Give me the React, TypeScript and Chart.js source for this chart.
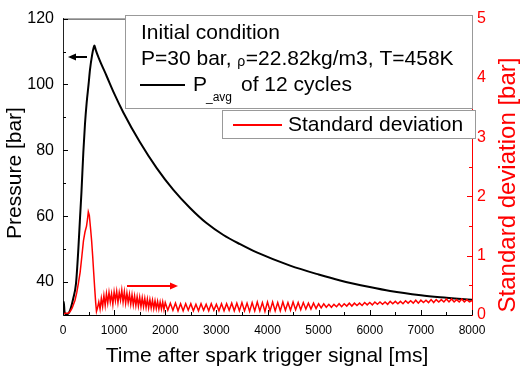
import React, { useEffect, useRef } from 'react';
import { Chart, registerables } from 'chart.js';
Chart.register(...registerables);

// ---- data ----
const P_TIME = [0, 15, 30, 60, 100, 140, 200, 254, 300, 333, 360, 398, 430, 463, 500, 528, 570, 600, 615, 640, 700, 855, 1000, 1180, 1500, 1833, 2159, 2485, 2800, 3137, 3464, 3790, 4442, 5000, 5421, 6000, 6399, 7000, 7378, 8000];
const P_AVG = [30.5, 34, 31, 30.2, 30.4, 31.5, 35, 39.5, 50, 59.5, 67, 79.5, 88, 94.5, 100, 104.5, 109, 111.2, 111.8, 110.5, 108, 102.5, 97.3, 91.5, 82.6, 74.6, 68.0, 62.5, 58.0, 54.3, 51.5, 49.0, 45.0, 42.3, 40.5, 38.5, 37.3, 36.0, 35.4, 34.6];

const STD_RISE_TIME = [0, 50, 100, 140, 180, 235, 270, 300, 335, 370, 400, 430, 460, 480, 495, 515, 540, 560, 580, 600, 620, 640, 655, 675];
const STD_RISE = [0.02, 0.03, 0.03, 0.06, 0.12, 0.25, 0.38, 0.53, 0.72, 1.0, 1.25, 1.4, 1.5, 1.62, 1.74, 1.68, 1.45, 1.25, 1.0, 0.72, 0.45, 0.2, 0.06, 0.12];
// dense noisy band, 700 ms .. 1975 ms every 25 ms
const STD_BAND_START = 700;
const STD_BAND_STEP = 25;
const STD_BAND = [
  0.22, 0.10, 0.28, 0.14, 0.33, 0.16, 0.36, 0.20, 0.38, 0.22, 0.36, 0.18, 0.39, 0.24, 0.40, 0.21, 0.38, 0.25, 0.42, 0.22,
  0.39, 0.20, 0.37, 0.21, 0.35, 0.18, 0.34, 0.17, 0.32, 0.16, 0.31, 0.15, 0.30, 0.14, 0.29, 0.14, 0.28, 0.13, 0.27, 0.12,
  0.26, 0.12, 0.25, 0.11, 0.24, 0.11, 0.23, 0.10, 0.22, 0.10, 0.22, 0.09,
];
// oscillating tail, 2000 ms .. 8000 ms every 50 ms
const STD_TAIL_START = 2000;
const STD_TAIL_STEP = 50;
const STD_TAIL = [
  0.21, 0.08, 0.20, 0.08, 0.20, 0.07, 0.19, 0.07, 0.19, 0.08,
  0.19, 0.07, 0.18, 0.07, 0.19, 0.08, 0.18, 0.07, 0.19, 0.08,
  0.18, 0.07, 0.19, 0.07, 0.19, 0.08, 0.20, 0.07, 0.20, 0.07,
  0.21, 0.07, 0.20, 0.06, 0.21, 0.07, 0.22, 0.07, 0.21, 0.06,
  0.22, 0.07, 0.22, 0.07, 0.21, 0.07, 0.22, 0.08, 0.21, 0.08,
  0.22, 0.09, 0.21, 0.09, 0.21, 0.10, 0.20, 0.10, 0.20, 0.11,
  0.19, 0.12, 0.19, 0.13, 0.18, 0.13, 0.18, 0.14, 0.19, 0.14,
  0.19, 0.15, 0.20, 0.15, 0.20, 0.16, 0.20, 0.16, 0.21, 0.17,
  0.21, 0.17, 0.22, 0.18, 0.22, 0.18, 0.22, 0.18, 0.23, 0.19,
  0.23, 0.19, 0.23, 0.19, 0.24, 0.20, 0.24, 0.20, 0.25, 0.20,
  0.25, 0.21, 0.25, 0.21, 0.26, 0.21, 0.26, 0.22, 0.26, 0.22,
  0.27, 0.22, 0.27, 0.22, 0.26, 0.22, 0.27, 0.22, 0.26, 0.22,
  0.24,
];

const X_MIN = 0, X_MAX = 8000, X_STEP = 1000, X_MINOR = 500;
const P_MIN = 30, P_MAX = 120, P_LABEL_STEP = 20, P_MINOR = 10;
const S_MIN = 0, S_MAX = 5, S_STEP = 1, S_MINOR = 0.5;

const X_TITLE = 'Time after spark trigger signal [ms]';
const Y_TITLE = 'Pressure [bar]';
const Y2_TITLE = 'Standard deviation [bar]';
const LEGEND_HEAD = 'Initial condition';
const LEGEND_COND_A = 'P=30 bar, ';
const LEGEND_RHO = 'ρ';
const LEGEND_COND_B = '=22.82kg/m3, T=458K';
const LEGEND_P = 'P';
const LEGEND_SUB = '_avg';
const LEGEND_P_REST = 'of 12 cycles';
const LEGEND_STD = 'Standard deviation';

const FONT = '"Liberation Sans", Arial, Helvetica, sans-serif';

const overlay = {
  id: 'overlay',
  afterDraw(chart: any) {
    const ctx = chart.ctx as CanvasRenderingContext2D;
    const ca = chart.chartArea;
    const sx = chart.scales.x, sy = chart.scales.y, s2 = chart.scales.y2;
    ctx.save();
    // top frame
    ctx.strokeStyle = '#333';
    ctx.lineWidth = 1;
    ctx.beginPath();
    ctx.moveTo(ca.left, ca.top + 0.5);
    ctx.lineTo(ca.right, ca.top + 0.5);
    ctx.stroke();
    // x ticks (inward)
    ctx.strokeStyle = '#000';
    for (let v = X_MIN; v <= X_MAX; v += X_MINOR) {
      const px = Math.round(sx.getPixelForValue(v)) + 0.5;
      const len = v % X_STEP === 0 ? 5 : 3;
      ctx.beginPath();
      ctx.moveTo(px, ca.bottom);
      ctx.lineTo(px, ca.bottom - len);
      ctx.stroke();
    }
    // left ticks
    for (let v = P_MIN + P_MINOR; v <= P_MAX; v += P_MINOR) {
      const py = Math.round(sy.getPixelForValue(v)) + 0.5;
      const len = v % P_LABEL_STEP === 0 ? 5 : 3;
      ctx.beginPath();
      ctx.moveTo(ca.left, py);
      ctx.lineTo(ca.left + len, py);
      ctx.stroke();
    }
    // right ticks
    ctx.strokeStyle = '#ff0000';
    for (let v = S_MIN + S_MINOR; v <= S_MAX; v += S_MINOR) {
      const py = Math.round(s2.getPixelForValue(v)) + 0.5;
      const len = Math.abs(v % S_STEP) < 1e-9 ? 5 : 3;
      ctx.beginPath();
      ctx.moveTo(ca.right, py);
      ctx.lineTo(ca.right - len, py);
      ctx.stroke();
    }

    // arrows
    const arrow = (x1: number, x2: number, y: number, color: string) => {
      ctx.strokeStyle = color;
      ctx.fillStyle = color;
      ctx.lineWidth = 2;
      const dir = Math.sign(x2 - x1);
      ctx.beginPath();
      ctx.moveTo(x1, y);
      ctx.lineTo(x2 - dir * 6, y);
      ctx.stroke();
      ctx.beginPath();
      ctx.moveTo(x2, y);
      ctx.lineTo(x2 - dir * 8, y - 3.5);
      ctx.lineTo(x2 - dir * 8, y + 3.5);
      ctx.closePath();
      ctx.fill();
    };
    arrow(87, 68, 57, '#000');
    arrow(127, 178, 286, '#ff0000');

    // legend box 1
    ctx.fillStyle = '#fff';
    ctx.fillRect(125, 15, 347, 93);
    ctx.strokeStyle = '#999';
    ctx.lineWidth = 1;
    ctx.strokeRect(125.5, 15.5, 347, 93);
    ctx.fillStyle = '#000';
    ctx.textBaseline = 'middle';
    ctx.textAlign = 'left';
    ctx.font = `21px ${FONT}`;
    ctx.fillText(LEGEND_HEAD, 141, 33);
    ctx.fillText(LEGEND_COND_A, 141, 59);
    let xx = 141 + ctx.measureText(LEGEND_COND_A).width;
    ctx.font = `14px ${FONT}`;
    ctx.fillText(LEGEND_RHO, xx, 62);
    xx += ctx.measureText(LEGEND_RHO).width + 0.5;
    ctx.font = `21px ${FONT}`;
    ctx.fillText(LEGEND_COND_B, xx, 59);
    ctx.strokeStyle = '#000';
    ctx.lineWidth = 2;
    ctx.beginPath();
    ctx.moveTo(140, 85);
    ctx.lineTo(185, 85);
    ctx.stroke();
    ctx.fillText(LEGEND_P, 193, 85);
    ctx.font = `12px ${FONT}`;
    ctx.fillText(LEGEND_SUB, 206, 98);
    ctx.font = `21px ${FONT}`;
    ctx.fillText(LEGEND_P_REST, 241, 85);

    // legend box 2
    ctx.fillStyle = '#fff';
    ctx.fillRect(222, 110, 253, 28);
    ctx.strokeStyle = '#999';
    ctx.lineWidth = 1;
    ctx.strokeRect(222.5, 110.5, 253, 28);
    ctx.strokeStyle = '#ff0000';
    ctx.lineWidth = 2;
    ctx.beginPath();
    ctx.moveTo(233, 125);
    ctx.lineTo(282, 125);
    ctx.stroke();
    ctx.fillStyle = '#000';
    ctx.fillText(LEGEND_STD, 288, 125);

    // axis titles
    ctx.textAlign = 'center';
    ctx.fillStyle = '#000';
    ctx.font = `21px ${FONT}`;
    ctx.fillText(X_TITLE, 267, 356);
    ctx.save();
    ctx.translate(15, 173);
    ctx.rotate(-Math.PI / 2);
    ctx.fillText(Y_TITLE, 0, 0);
    ctx.restore();
    ctx.save();
    ctx.translate(508, 185);
    ctx.rotate(-Math.PI / 2);
    ctx.fillStyle = '#ff0000';
    ctx.font = `24px ${FONT}`;
    ctx.fillText(Y2_TITLE, 0, 0);
    ctx.restore();
    ctx.restore();
  },
};

export default function App() {
  const ref = useRef<HTMLCanvasElement>(null);
  useEffect(() => {
    const pData = P_TIME.map((t, i) => ({ x: t, y: P_AVG[i] }));
    const sData = STD_RISE_TIME.map((t, i) => ({ x: t, y: STD_RISE[i] }))
      .concat(STD_BAND.map((v, i) => ({ x: STD_BAND_START + i * STD_BAND_STEP, y: v })))
      .concat(STD_TAIL.map((v, i) => ({ x: STD_TAIL_START + i * STD_TAIL_STEP, y: v })));
    const chart = new Chart(ref.current!, {
      type: 'line',
      data: {
        datasets: [
          {
            label: 'P_avg of 12 cycles',
            data: pData,
            borderColor: '#000',
            borderWidth: 2,
            pointRadius: 0,
            cubicInterpolationMode: 'monotone',
            yAxisID: 'y',
            order: 1,
          },
          {
            label: 'Standard deviation',
            data: sData,
            borderColor: '#ff0000',
            borderWidth: 1.5,
            pointRadius: 0,
            tension: 0,
            yAxisID: 'y2',
            order: 0,
          },
        ],
      },
      options: {
        responsive: false,
        animation: false,
        devicePixelRatio: 1,
        layout: { padding: { top: 15, left: 0, right: 0, bottom: 0 } },
        plugins: { legend: { display: false }, tooltip: { enabled: false } },
        scales: {
          x: {
            type: 'linear',
            min: X_MIN,
            max: X_MAX,
            afterFit: (s: any) => { s.height = 55; },
            ticks: {
              stepSize: X_STEP, color: '#000', font: { family: FONT, size: 12 }, padding: 8, maxRotation: 0, autoSkip: false,
              callback: (v: any) => String(v),
            },
            grid: { display: false, drawTicks: false },
            border: { display: true, color: '#000', width: 1 },
          },
          y: {
            type: 'linear',
            position: 'left',
            min: P_MIN,
            max: P_MAX,
            afterFit: (s: any) => { s.width = 63; },
            ticks: {
              stepSize: P_MINOR,
              color: '#000',
              font: { family: FONT, size: 16 },
              padding: 9,
              autoSkip: false,
              callback: (v: any) => (v % P_LABEL_STEP === 0 && v > P_MIN ? String(v) : ''),
            },
            grid: { display: false, drawTicks: false },
            border: { display: true, color: '#222', width: 1 },
          },
          y2: {
            type: 'linear',
            position: 'right',
            min: S_MIN,
            max: S_MAX,
            afterFit: (s: any) => { s.width = 49; },
            ticks: {
              stepSize: S_STEP, color: '#ff0000', font: { family: FONT, size: 16 }, padding: 5, autoSkip: false,
              callback: (v: any) => String(v),
            },
            grid: { display: false, drawTicks: false },
            border: { display: true, color: '#ff0000', width: 1 },
          },
        },
      },
      plugins: [overlay],
    } as any);
    return () => chart.destroy();
  }, []);
  return (
    <div style={{ position: 'absolute', left: 0, top: 0, width: 521, height: 370, background: '#fff' }}>
      <canvas ref={ref} width={521} height={370} style={{ display: 'block', width: 521, height: 370 }} />
    </div>
  );
}
